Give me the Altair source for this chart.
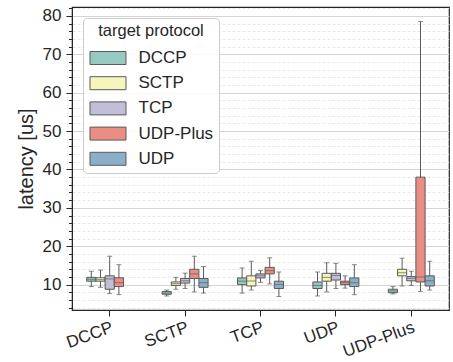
import altair as alt
import pandas as pd

groups = ["DCCP", "SCTP", "TCP", "UDP", "UDP-Plus"]
protocols = ["DCCP", "SCTP", "TCP", "UDP-Plus", "UDP"]
colors = ["#96cac1", "#f5f5bc", "#c1bed6", "#ea8e83", "#8aafc9"]

box_group = ["DCCP"] * 4 + ["SCTP"] * 5 + ["TCP"] * 5 + ["UDP"] * 5 + ["UDP-Plus"] * 5
box_protocol = (["DCCP", "SCTP", "TCP", "UDP-Plus"]
                + ["DCCP", "SCTP", "TCP", "UDP-Plus", "UDP"] * 4)
whisker_low = [9.5, 9.3, 7.7, 7.4,
               7.05, 8.8, 9.0, 8.1, 7.8,
               7.8, 8.6, 10.6, 10.2, 6.9,
               7.05, 8.1, 9.0, 9.1, 7.4,
               7.6, 9.65, 9.8, 8.25, 8.6]
q1 = [10.9, 10.9, 8.8, 9.5,
      7.5, 9.8, 10.4, 11.6, 9.3,
      10.0, 9.65, 11.75, 12.8, 9.0,
      9.0, 10.9, 11.2, 10.0, 9.5,
      7.9, 12.3, 11.0, 10.7, 9.65]
median = [11.4, 11.3, 11.5, 10.5,
          7.8, 10.25, 11.0, 12.8, 10.5,
          10.9, 10.95, 12.3, 13.65, 10.0,
          9.8, 11.9, 12.4, 10.5, 10.5,
          8.35, 13.1, 11.65, 12.0, 11.0]
q3 = [11.9, 11.8, 12.3, 11.8,
      8.2, 10.7, 11.6, 14.0, 11.6,
      11.75, 12.3, 12.8, 14.5, 10.9,
      10.7, 12.95, 12.95, 10.9, 11.75,
      8.8, 14.0, 12.1, 38.0, 12.3]
whisker_high = [13.5, 13.8, 17.4, 15.2,
                8.6, 11.9, 13.0, 17.4, 14.7,
                14.35, 16.1, 13.65, 17.0, 13.3,
                13.3, 15.7, 15.55, 12.3, 15.2,
                9.5, 16.9, 13.5, 78.5, 16.1]

y_ticks = list(range(4, 83, 2))

df = pd.DataFrame({
    "group": box_group, "protocol": box_protocol,
    "lo": whisker_low, "q1": q1, "med": median, "q3": q3, "hi": whisker_high,
})

gray = "#5b5b5b"
ink = "#262626"
font = "Liberation Sans"

yscale = alt.Scale(domain=[3.4, 82.3], nice=False, zero=False)
yaxis = alt.Axis(
    values=y_ticks,
    labelExpr="datum.value % 10 === 0 ? datum.label : ''",
    labelOverlap=False,
    grid=True,
    gridColor={"condition": {"test": "datum.value % 10 === 0", "value": "#d4d4d4"}, "value": "#e2e2e2"},
    gridDash={"condition": {"test": "datum.value % 10 === 0", "value": []}, "value": [3, 2]},
    gridWidth={"condition": {"test": "datum.value % 10 === 0", "value": 1.2}, "value": 0.8},
    tickSize={"condition": {"test": "datum.value % 10 === 0", "value": 6}, "value": 3.5},
    tickColor=ink,
    tickWidth=1,
    domainColor=ink,
    labelFontSize=17,
    labelColor=ink,
    labelFont=font,
    labelPadding=5,
    titleFontSize=20,
    titleFontWeight="normal",
    titleFont=font,
    titleColor=ink,
    titleX=-46,
    titleBaseline="middle",
)


def ydef(field):
    return alt.Y(field, scale=yscale, axis=yaxis, title="latency [us]")


x = alt.X(
    "group:N",
    scale=alt.Scale(domain=groups, paddingInner=0.39, paddingOuter=0.195),
    axis=alt.Axis(
        labelAngle=-20, labelAlign="right", labelBaseline="top",
        labelFontSize=17, labelColor=ink, labelFont=font, labelPadding=3,
        tickSize=6, tickColor=ink, domainColor=ink, grid=False,
    ),
    title=None,
)
xo = alt.XOffset("protocol:N",
                 scale=alt.Scale(domain=protocols, paddingInner=0, paddingOuter=0))

base = alt.Chart(df).encode(x=x, xOffset=xo)

whisk = base.mark_rule(color=gray, strokeWidth=1).encode(y=ydef("lo:Q"), y2="hi:Q")
box = base.mark_bar(stroke=gray, strokeWidth=1).encode(
    y=ydef("q1:Q"), y2="q3:Q",
    color=alt.Color(
        "protocol:N",
        scale=alt.Scale(domain=protocols, range=colors),
        legend=alt.Legend(
            title="target protocol",
            orient="top-left",
            offset=11,
            padding=5,
            titleAnchor="middle",
            titleFontSize=16.5,
            titleFontWeight="normal",
            titleFont=font,
            titleColor=ink,
            titlePadding=10,
            labelFontSize=17,
            labelFont=font,
            labelColor=ink,
            symbolType="M-2.77,-1L2.77,-1L2.77,1L-2.77,1Z",
            symbolSize=169,
            symbolOffset=11.5,
            symbolStrokeColor=gray,
            symbolStrokeWidth=1,
            symbolOpacity=1,
            labelOffset=22,
            rowPadding=7.2,
            strokeColor="#cccccc",
            fillColor="rgba(255,255,255,0.85)",
            cornerRadius=4,
        ),
    ),
)
med = base.mark_tick(color=gray, thickness=1, size=9).encode(y=ydef("med:Q"))
cap_lo = base.mark_tick(color=gray, thickness=1, size=5).encode(y=ydef("lo:Q"))
cap_hi = base.mark_tick(color=gray, thickness=1, size=5).encode(y=ydef("hi:Q"))

chart = alt.layer(whisk, box, med, cap_lo, cap_hi).properties(
    width=377,
    height=303,
    autosize=alt.AutoSizeParams(type="none"),
    padding={"left": 72, "top": 7, "right": 4, "bottom": 52},
    background="white",
).configure_view(stroke=ink, strokeWidth=1.2)

chart.save("out.html", embed_options={"renderer": "svg", "actions": False})
